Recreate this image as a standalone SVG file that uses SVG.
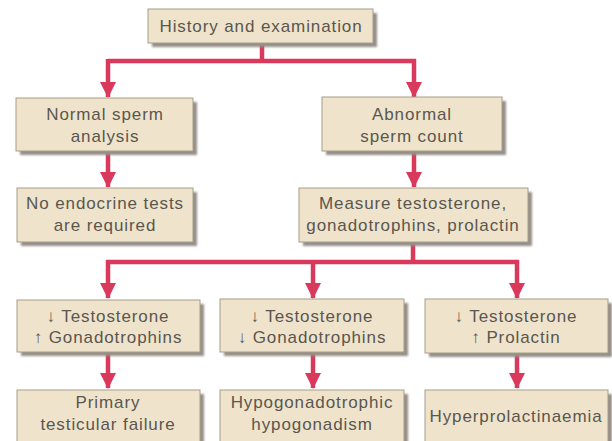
<svg xmlns="http://www.w3.org/2000/svg" width="612" height="441" viewBox="0 0 612 441">
<defs>
<style>
.box{fill:#efe4cb;stroke:#a79d88;stroke-width:1}
.sh{fill:#948f88;filter:url(#blur)}
.t{font-family:"Liberation Sans",Arial,sans-serif;font-size:17px;letter-spacing:0.9px;fill:#5a5650;text-anchor:middle}
.c{fill:none;stroke:#d93a5c;stroke-width:4.5}
.a{stroke:#d93a5c;stroke-width:4.5;fill:none;marker-end:url(#ah)}
</style>
<filter id="blur" x="-10%" y="-20%" width="120%" height="140%"><feGaussianBlur stdDeviation="1.2"/></filter>
<marker id="ah" markerUnits="userSpaceOnUse" markerWidth="16" markerHeight="16" refX="15" refY="8" orient="auto" viewBox="0 0 16 16">
<path d="M0,0 L16,8 L0,16 z" fill="#d93a5c"/>
</marker>
</defs>
<rect width="612" height="441" fill="#ffffff"/>

<g id="connectors">
<path class="c" d="M262,43 V61 M108,61 H416"/>
<line class="a" x1="108" y1="59" x2="108" y2="97"/>
<line class="a" x1="414" y1="59" x2="414" y2="97"/>
<line class="a" x1="108" y1="151" x2="108" y2="187"/>
<line class="a" x1="414" y1="151" x2="414" y2="187"/>
<path class="c" d="M413,242 V262 M106,262 H519"/>
<line class="a" x1="108" y1="260" x2="108" y2="298"/>
<line class="a" x1="313" y1="260" x2="313" y2="298"/>
<line class="a" x1="517" y1="260" x2="517" y2="298"/>
<line class="a" x1="108" y1="352" x2="108" y2="388"/>
<line class="a" x1="313" y1="352" x2="313" y2="388"/>
<line class="a" x1="517" y1="352" x2="517" y2="388"/>
</g>

<g id="history">
<rect class="sh" x="152" y="13" width="225" height="34"/>
<rect class="box" x="148" y="9" width="225" height="34"/>
<text class="t" x="261" y="32">History and examination</text>
</g>

<g id="normal">
<rect class="sh" x="20" y="102" width="177" height="53"/>
<rect class="box" x="16" y="98" width="177" height="53"/>
<text class="t" x="105" y="120">Normal sperm</text>
<text class="t" x="105" y="142">analysis</text>
</g>

<g id="abnormal">
<rect class="sh" x="326" y="101" width="180" height="54"/>
<rect class="box" x="322" y="97" width="180" height="54"/>
<text class="t" x="412" y="120">Abnormal</text>
<text class="t" x="412" y="142">sperm count</text>
</g>

<g id="noendocrine">
<rect class="sh" x="21" y="192" width="176" height="54"/>
<rect class="box" x="17" y="188" width="176" height="54"/>
<text class="t" x="105" y="209">No endocrine tests</text>
<text class="t" x="105" y="231">are required</text>
</g>

<g id="measure">
<rect class="sh" x="303" y="192" width="229" height="54"/>
<rect class="box" x="299" y="188" width="229" height="54"/>
<text class="t" x="413" y="209">Measure testosterone,</text>
<text class="t" x="413" y="231">gonadotrophins, prolactin</text>
</g>

<g id="primary-markers">
<rect class="sh" x="21" y="304" width="183" height="52"/>
<rect class="box" x="17" y="300" width="183" height="52"/>
<text class="t" x="108" y="322">↓ Testosterone</text>
<text class="t" x="108" y="343">↑ Gonadotrophins</text>
</g>

<g id="hypogonadotrophic-markers">
<rect class="sh" x="224" y="303" width="184" height="53"/>
<rect class="box" x="220" y="299" width="184" height="53"/>
<text class="t" x="312" y="322">↓ Testosterone</text>
<text class="t" x="312" y="343">↓ Gonadotrophins</text>
</g>

<g id="prolactin-markers">
<rect class="sh" x="429" y="303" width="183" height="54"/>
<rect class="box" x="425" y="299" width="183" height="54"/>
<text class="t" x="516" y="322">↓ Testosterone</text>
<text class="t" x="516" y="343">↑ Prolactin</text>
</g>

<g id="primary">
<rect class="sh" x="21" y="394" width="183" height="53"/>
<rect class="box" x="17" y="390" width="183" height="53"/>
<text class="t" x="108" y="408">Primary</text>
<text class="t" x="108" y="430">testicular failure</text>
</g>

<g id="hypogonadism">
<rect class="sh" x="224" y="394" width="184" height="53"/>
<rect class="box" x="220" y="390" width="184" height="53"/>
<text class="t" x="312" y="408">Hypogonadotrophic</text>
<text class="t" x="312" y="430">hypogonadism</text>
</g>

<g id="hyperprolactinaemia">
<rect class="sh" x="429" y="394" width="183" height="53"/>
<rect class="box" x="425" y="390" width="183" height="53"/>
<text class="t" x="516" y="422">Hyperprolactinaemia</text>
</g>
</svg>
